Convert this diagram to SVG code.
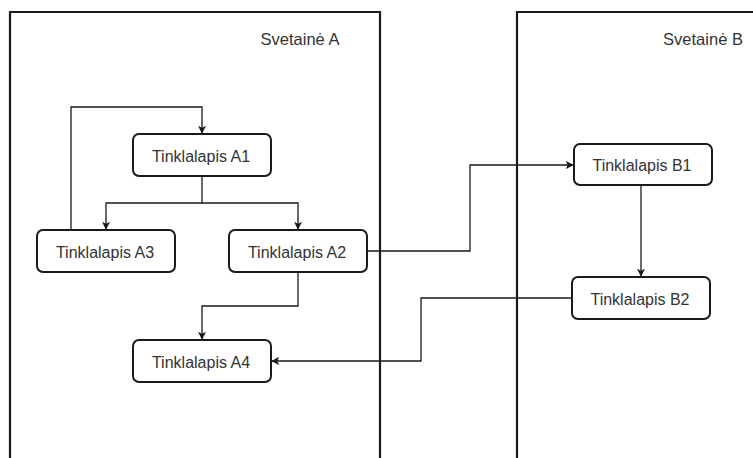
<svg xmlns="http://www.w3.org/2000/svg" width="753" height="458" viewBox="0 0 753 458">
<style>
.cont{fill:none;stroke:#1a1a1a;stroke-width:2.2}
.node{fill:#fff;stroke:#1a1a1a;stroke-width:2}
.lbl{font-family:"Liberation Sans",Arial,sans-serif;font-size:16px;fill:#333;text-anchor:middle;dominant-baseline:central}
.edge{fill:none;stroke:#1a1a1a;stroke-width:1.3}
</style>
<defs>
<marker id="arr" viewBox="0 0 10 10" refX="9" refY="5" markerWidth="8" markerHeight="8" markerUnits="userSpaceOnUse" orient="auto">
<path d="M0,0 L10,5 L0,10 L2.5,5 Z" fill="#1a1a1a"/>
</marker>
</defs>
<rect width="753" height="458" fill="#fff"/>
<g id="svetaine-a">
<path class="cont" d="M10,470 V12 H380 V470"/>
<text class="lbl" x="300" y="38.5" style="font-size:16.5px">Svetainė A</text>
</g>
<g id="svetaine-b">
<path class="cont" d="M517,470 V12 H770"/>
<text class="lbl" x="703" y="38.5" style="font-size:16.5px">Svetainė B</text>
</g>
<g id="connectors">
<path class="edge" d="M202,176 V203 H106 V229" marker-end="url(#arr)"/>
<path class="edge" d="M202,203 H298 V229" marker-end="url(#arr)"/>
<path class="edge" d="M71,230 V107 H202 V133" marker-end="url(#arr)"/>
<path class="edge" d="M298,272 V306 H202 V339" marker-end="url(#arr)"/>
<path class="edge" d="M367,251 H470 V165 H573" marker-end="url(#arr)"/>
<path class="edge" d="M641,185 V276" marker-end="url(#arr)"/>
<path class="edge" d="M572,298 H421 V361 H272" marker-end="url(#arr)"/>
</g>
<g id="a1"><rect class="node" x="133" y="134" width="138" height="42" rx="6"/><text class="lbl" x="201" y="156">Tinklalapis A1</text></g>
<g id="a3"><rect class="node" x="37" y="230" width="138" height="42" rx="6"/><text class="lbl" x="105" y="252">Tinklalapis A3</text></g>
<g id="a2"><rect class="node" x="229" y="230" width="138" height="42" rx="6"/><text class="lbl" x="297" y="252">Tinklalapis A2</text></g>
<g id="a4"><rect class="node" x="133" y="340" width="138" height="42" rx="6"/><text class="lbl" x="201" y="362">Tinklalapis A4</text></g>
<g id="b1"><rect class="node" x="574" y="144" width="138" height="41" rx="6"/><text class="lbl" x="642" y="165.5">Tinklalapis B1</text></g>
<g id="b2"><rect class="node" x="572" y="277" width="138" height="42" rx="6"/><text class="lbl" x="640" y="299">Tinklalapis B2</text></g>
</svg>
